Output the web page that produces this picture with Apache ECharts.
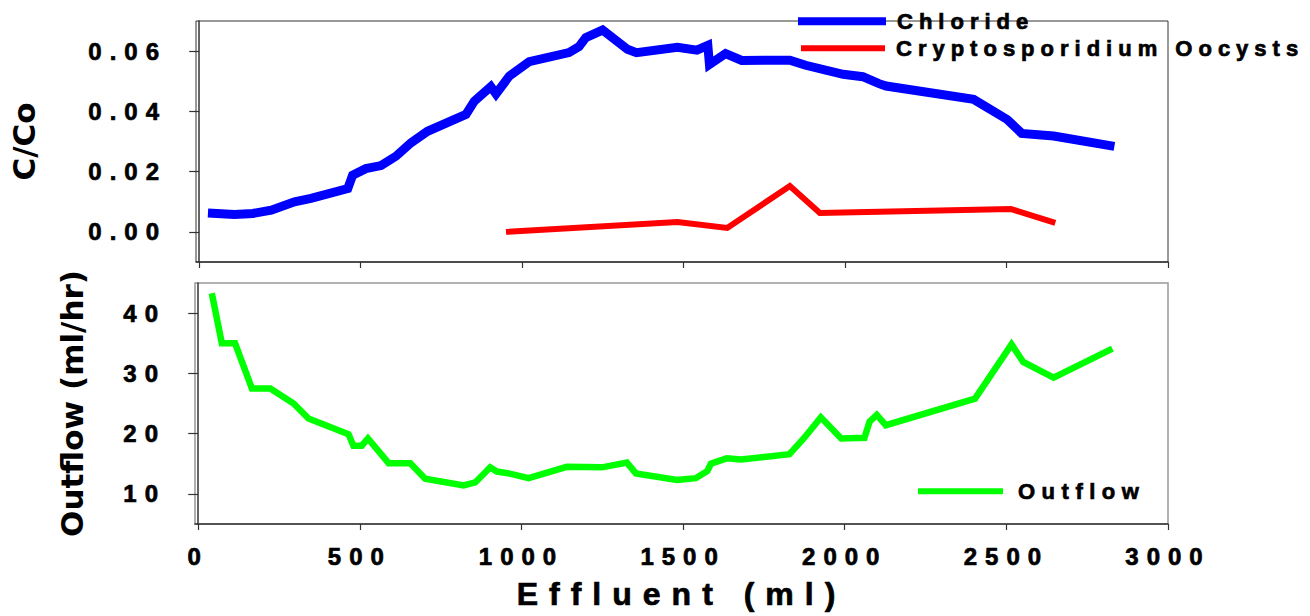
<!DOCTYPE html>
<html>
<head>
<meta charset="utf-8">
<script src="https://cdn.jsdelivr.net/npm/echarts@6/dist/echarts.min.js"></script>
<style>
  html, body { margin: 0; padding: 0; background: #fff; }
  #chart { width: 1310px; height: 616px; }
</style>
</head>
<body>
<div id="chart"></div>
<script>
// Effluent volume (ml) at each sample, and C/Co for chloride
const chlorideX = [27, 109, 166, 223, 295, 346, 460, 475, 516, 563, 609, 656, 707, 826, 852, 903, 919, 960, 1022, 1145, 1176, 1197, 1249, 1326, 1354, 1481, 1541, 1575, 1580, 1630, 1680, 1829, 1878, 1994, 2055, 2105, 2127, 2398, 2502, 2547, 2646, 2834];
const chlorideY = [0.0063, 0.0058, 0.0061, 0.0072, 0.0100, 0.0111, 0.0144, 0.0188, 0.0210, 0.0220, 0.0251, 0.0296, 0.0334, 0.0390, 0.0434, 0.0482, 0.0458, 0.0517, 0.0565, 0.0595, 0.0615, 0.0645, 0.0670, 0.0606, 0.0595, 0.0613, 0.0603, 0.0619, 0.0556, 0.0592, 0.0569, 0.0570, 0.0553, 0.0523, 0.0515, 0.0492, 0.0484, 0.0440, 0.0373, 0.0327, 0.0318, 0.0284];

// C/Co for Cryptosporidium oocysts
const oocystX = [950, 1481, 1635, 1829, 1922, 2513, 2651];
const oocystY = [0.0000, 0.0033, 0.0013, 0.0152, 0.0063, 0.0076, 0.0030];

// Column outflow rate (ml/hr)
const outflowX = [42, 73, 114, 166, 223, 295, 341, 465, 480, 506, 525, 589, 656, 702, 821, 857, 903, 924, 960, 1022, 1140, 1249, 1326, 1354, 1481, 1539, 1575, 1586, 1635, 1680, 1829, 1873, 1926, 1989, 2061, 2077, 2099, 2127, 2403, 2516, 2552, 2646, 2828];
const outflowY = [43.3, 35.0, 35.0, 27.5, 27.5, 25.0, 22.5, 19.9, 18.0, 18.0, 19.2, 15.1, 15.1, 12.5, 11.4, 11.9, 14.4, 13.7, 13.4, 12.6, 14.5, 14.4, 15.2, 13.4, 12.3, 12.6, 13.8, 15.0, 15.9, 15.7, 16.6, 19.2, 22.7, 19.2, 19.3, 22.0, 23.1, 21.4, 25.8, 34.8, 31.9, 29.3, 34.1];

// Tick positions
const effluentTicks = [0, 500, 1000, 1500, 2000, 2500, 3000];
const ratioTicks = [0, 0.02, 0.04, 0.06];
const outflowTicks = [10, 20, 30, 40];

const pairs = (xs, ys) => xs.map((x, i) => [x, ys[i]]);

// Heavy lettering: bold face plus a thin outline in the same colour
const heavy = { textBorderColor: '#000', textBorderWidth: 0.7 };
const tickFont = Object.assign({ fontFamily: 'Liberation Sans', fontWeight: 'bold', fontSize: 24, color: '#000' }, heavy);
const legendFont = Object.assign({ fontFamily: 'Liberation Sans', fontWeight: 'bold', fontSize: 22, color: '#000', padding: [0, 0, 0, 6] }, heavy);
const titleFont = { fontFamily: 'DejaVu Sans', fontWeight: 'bold', fontSize: 31, color: '#000' };

function xAxisFor(gridIndex, withLabels) {
  return {
    type: 'value', gridIndex, min: -10, max: 3000,
    axisLine: { show: true, onZero: false, lineStyle: { color: '#333', width: 1.5 } },
    axisTick: { show: true, customValues: effluentTicks, length: 6, lineStyle: { color: '#333', width: 1.2 } },
    axisLabel: withLabels
      ? Object.assign({ show: true, customValues: effluentTicks, margin: 20, formatter: v => String(v) }, tickFont)
      : { show: false },
    splitLine: { show: false },
    name: withLabels ? 'Effluent (ml)' : '',
    nameLocation: 'middle', nameGap: 54,
    nameTextStyle: Object.assign({ fontFamily: 'Liberation Sans', fontWeight: 'bold', fontSize: 32, color: '#000' }, heavy)
  };
}

function yAxisFor(gridIndex, min, max, ticks, fmt, name, gap) {
  return {
    type: 'value', gridIndex, min, max,
    axisLine: { show: true, lineStyle: { color: '#333', width: 1.5 } },
    axisTick: { show: true, customValues: ticks, length: 10, lineStyle: { color: '#333', width: 1.2 } },
    axisLabel: Object.assign({ show: true, customValues: ticks, margin: 29, formatter: fmt }, tickFont),
    splitLine: { show: false },
    name, nameLocation: 'middle', nameGap: gap, nameTextStyle: titleFont
  };
}

const chart = echarts.init(document.getElementById('chart'), null, { renderer: 'svg' });

chart.setOption({
  animation: false,
  backgroundColor: '#fff',
  grid: [
    { left: 195, right: 142, top: 21, height: 241, show: true, borderColor: '#333', borderWidth: 1 },
    { left: 195, right: 142, top: 283, height: 241, show: true, borderColor: '#999', borderWidth: 1.5 }
  ],
  xAxis: [xAxisFor(0, false), xAxisFor(1, true)],
  yAxis: [
    yAxisFor(0, -0.01, 0.07, ratioTicks, v => v.toFixed(2), 'C/Co', 157),
    yAxisFor(1, 5, 45, outflowTicks, v => String(v), 'Outflow (ml/hr)', 108)
  ],
  legend: [
    { data: ['Chloride'], left: 793, top: 5, icon: 'rect', itemWidth: 88, itemHeight: 8, selectedMode: false, textStyle: legendFont },
    { data: ['Cryptosporidium Oocysts'], left: 796, top: 32, icon: 'rect', itemWidth: 84, itemHeight: 6, selectedMode: false, textStyle: legendFont },
    { data: ['Outflow'], left: 913, top: 475, icon: 'rect', itemWidth: 85, itemHeight: 6, selectedMode: false, textStyle: Object.assign({}, legendFont, { padding: [0, 0, 0, 10] }) }
  ],
  series: [
    {
      name: 'Chloride', type: 'line', xAxisIndex: 0, yAxisIndex: 0,
      data: pairs(chlorideX, chlorideY), color: '#0000ff', showSymbol: false, z: 3,
      lineStyle: { width: 9, color: '#0000ff', join: 'miter', cap: 'butt' }
    },
    {
      name: 'Cryptosporidium Oocysts', type: 'line', xAxisIndex: 0, yAxisIndex: 0,
      data: pairs(oocystX, oocystY), color: '#ff0000', showSymbol: false, z: 3,
      lineStyle: { width: 6, color: '#ff0000', join: 'miter', cap: 'butt' }
    },
    {
      name: 'Outflow', type: 'line', xAxisIndex: 1, yAxisIndex: 1,
      data: pairs(outflowX, outflowY), color: '#00ff00', showSymbol: false, z: 3,
      lineStyle: { width: 6.5, color: '#00ff00', join: 'miter', cap: 'butt' }
    }
  ]
});

// Widely tracked lettering for tick labels, legend entries and the x-axis title
const trackedText = { 'Chloride': 6, 'Cryptosporidium Oocysts': 6, 'Outflow': 6.5, 'Effluent (ml)': 11 };
function applyTracking() {
  document.querySelectorAll('#chart svg text').forEach(t => {
    const s = t.textContent;
    let sp = trackedText[s];
    if (sp === undefined && /^[0-9.]+$/.test(s)) sp = 8;
    if (sp !== undefined) t.style.letterSpacing = sp + 'px';
  });
}
chart.on('finished', applyTracking);
applyTracking();
</script>
</body>
</html>
